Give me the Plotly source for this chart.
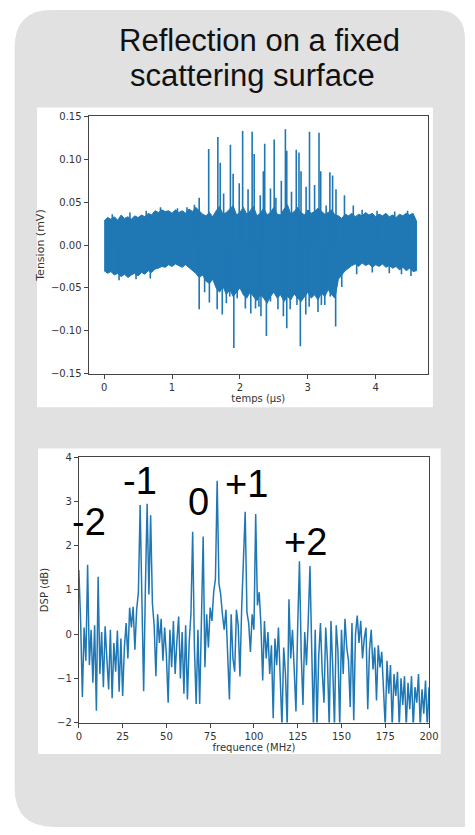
import plotly.graph_objects as go

W, H = 475, 835

# ---------------- Top panel data: time signal ----------------
t_env_us = [0.00, 0.05, 0.10, 0.15, 0.20, 0.25, 0.30, 0.35, 0.40, 0.45,
            0.50, 0.55, 0.60, 0.65, 0.70, 0.75, 0.80, 0.85, 0.90, 0.95,
            1.00, 1.05, 1.10, 1.15, 1.20, 1.25, 1.30, 1.35, 1.40, 1.45,
            1.50, 1.55, 1.60, 1.65, 1.70, 1.75, 1.80, 1.85, 1.90, 1.95,
            2.00, 2.05, 2.10, 2.15, 2.20, 2.25, 2.30, 2.35, 2.40, 2.45,
            2.50, 2.55, 2.60, 2.65, 2.70, 2.75, 2.80, 2.85, 2.90, 2.95,
            3.00, 3.05, 3.10, 3.15, 3.20, 3.25, 3.30, 3.35, 3.40, 3.45,
            3.50, 3.55, 3.60, 3.65, 3.70, 3.75, 3.80, 3.85, 3.90, 3.95,
            4.00, 4.05, 4.10, 4.15, 4.20, 4.25, 4.30, 4.35, 4.40, 4.45,
            4.50, 4.55, 4.60]
env_upper_mv = [0.028, 0.032, 0.030, 0.033, 0.029, 0.035, 0.031, 0.033, 0.030, 0.034,
                0.032, 0.035, 0.033, 0.037, 0.035, 0.040, 0.038, 0.041, 0.039, 0.040,
                0.037, 0.041, 0.038, 0.040, 0.037, 0.042, 0.039, 0.044, 0.040, 0.036,
                0.034, 0.038, 0.033, 0.040, 0.045, 0.036, 0.038, 0.042, 0.046, 0.035,
                0.038, 0.044, 0.036, 0.040, 0.045, 0.034, 0.037, 0.043, 0.035, 0.038,
                0.044, 0.036, 0.035, 0.042, 0.047, 0.036, 0.039, 0.044, 0.038, 0.035,
                0.041, 0.037, 0.039, 0.043, 0.040, 0.036, 0.038, 0.041, 0.035, 0.034,
                0.031, 0.036, 0.034, 0.037, 0.033, 0.036, 0.034, 0.038, 0.035, 0.037,
                0.033, 0.036, 0.034, 0.037, 0.033, 0.035, 0.032, 0.036, 0.034, 0.037,
                0.035, 0.037, 0.028]
env_lower_mv = [-0.030, -0.033, -0.031, -0.035, -0.033, -0.037, -0.034, -0.038, -0.035, -0.033,
                -0.036, -0.032, -0.034, -0.030, -0.032, -0.028, -0.027, -0.025, -0.026, -0.023,
                -0.025, -0.022, -0.024, -0.026, -0.023, -0.027, -0.030, -0.033, -0.038, -0.035,
                -0.042, -0.045, -0.040, -0.050, -0.055, -0.048, -0.058, -0.052, -0.060, -0.055,
                -0.050, -0.058, -0.062, -0.055, -0.060, -0.065, -0.058, -0.062, -0.068, -0.060,
                -0.055, -0.062, -0.058, -0.066, -0.060, -0.064, -0.057, -0.062, -0.066, -0.060,
                -0.055, -0.062, -0.058, -0.064, -0.056, -0.060, -0.052, -0.058, -0.062, -0.040,
                -0.035, -0.030, -0.027, -0.024, -0.022, -0.025, -0.021, -0.024, -0.022, -0.026,
                -0.023, -0.025, -0.022, -0.026, -0.024, -0.027, -0.025, -0.029, -0.026, -0.030,
                -0.027, -0.031, -0.030]

# isolated excursions (large echoes and small noise bursts at the band edge)
spike_t_us = [1.33, 1.40, 1.54, 1.675, 1.71, 1.76, 1.86, 1.90, 1.99, 2.04,
              2.12, 2.18, 2.21, 2.30, 2.345, 2.365, 2.45, 2.505, 2.53, 2.61,
              2.67, 2.69, 2.76, 2.83, 2.87, 2.90, 2.975, 3.025, 3.10, 3.165,
              3.19, 3.27, 3.325, 3.365, 3.415, 3.54, 3.67,
              1.40, 1.48, 1.55, 1.665, 1.74, 1.80, 1.85, 1.91, 1.96, 2.08,
              2.16, 2.23, 2.28, 2.31, 2.39, 2.45, 2.56, 2.64, 2.69, 2.74,
              2.84, 2.89, 2.97, 3.02, 3.15, 3.20, 3.25, 3.33, 3.41, 3.50,
              0.12, 0.38, 0.62, 0.83, 1.08, 1.22, 3.80, 4.02, 4.28, 4.47,
              0.22, 0.47, 0.68, 3.72, 3.95, 4.20, 4.38, 4.52]
spike_v_mv = [0.047, 0.055, 0.112, 0.126, 0.096, 0.060, 0.117, 0.083, 0.072, 0.133,
              0.065, 0.132, 0.106, 0.058, 0.086, 0.118, 0.066, 0.123, 0.055, 0.075,
              0.135, 0.110, 0.062, 0.111, 0.108, 0.086, 0.068, 0.132, 0.070, 0.131,
              0.086, 0.046, 0.085, 0.081, 0.065, 0.058, 0.046,
              -0.075, -0.055, -0.067, -0.075, -0.081, -0.068, -0.060, -0.120, -0.062, -0.074,
              -0.080, -0.074, -0.072, -0.083, -0.106, -0.066, -0.075, -0.083, -0.097, -0.075,
              -0.070, -0.118, -0.081, -0.072, -0.078, -0.070, -0.070, -0.060, -0.095, -0.049,
              0.036, 0.038, 0.040, 0.044, 0.043, 0.044, 0.041, 0.040, 0.039, 0.040,
              -0.041, -0.040, -0.039, -0.034, -0.032, -0.033, -0.034, -0.036]

top_xticks = [0, 1, 2, 3, 4]
top_yticks = [-0.15, -0.10, -0.05, 0.00, 0.05, 0.10, 0.15]
top_yticktext = ["\u22120.15", "\u22120.10", "\u22120.05", "0.00", "0.05", "0.10", "0.15"]

# ---------------- Bottom panel data: spectrum ----------------
freq_mhz = list(range(0, 201))
dsp_db = [
    1.45, 0.30, -1.42, 0.15, -0.60, 1.57, -0.70, 0.10, -1.10, 0.20,
    -1.73, 1.30, -0.90, 0.05, -1.20, 0.18, -0.55, -1.25, 0.10, -1.45,
    -0.20, -0.85, 0.08, -1.30, -0.10, -1.40, -0.30, 0.25, -0.55, 0.60,
    0.15, 0.62, -0.35, 0.55, 0.95, 2.92, 0.80, -1.29, 1.05, 2.95,
    0.90, 2.69, 0.70, 0.20, -0.95, 0.45, -0.20, 0.35, -0.60, 0.15,
    -0.50, -1.55, 0.10, -0.75, 0.30, -0.90, -0.15, 0.40, -1.00, 0.05,
    -1.35, 0.20, -1.48, -0.20, 0.45, 2.32, -0.30, -1.58, 0.10, -1.58,
    0.30, 2.21, -0.75, 0.45, -0.30, 0.60, 0.30, 0.95, 1.25, 3.47,
    1.15, 0.90, 0.45, 0.10, 0.55, -0.40, -1.48, 0.45, -0.55, -0.85,
    0.55, 0.20, -0.96, 0.60, 1.50, 2.77, 0.50, 0.25, -0.40, 0.45,
    0.10, 2.72, 0.65, 0.95, 0.20, -1.05, 0.30, -0.55, 0.05, -0.90,
    -0.25, -1.90, -0.10, -0.70, 0.15, -1.00, -2.10, -0.30, -0.90, -2.10,
    0.79, -0.55, 0.10, -0.80, -1.75, 0.20, 1.65, -0.45, -1.60, 0.05,
    -0.70, 0.30, 1.54, -0.35, -2.10, 0.10, -2.10, -0.50, 0.25, -0.85,
    -1.55, 0.15, -0.60, -2.10, 0.30, -0.75, -2.10, 0.20, -0.40, -2.10,
    0.10, -0.90, 0.35, -0.30, -0.60, -1.65, 0.25, -1.95, 0.00, 0.42,
    -0.20, 0.30, -0.55, -0.10, 0.15, -1.70, -0.35, 0.10, -0.80, -0.30,
    -1.50, -0.25, -0.75, -0.40, -1.10, -2.10, -0.60, -1.35, -0.70, -2.10,
    -0.90, -1.40, -0.85, -2.10, -1.00, -1.60, -0.95, -2.10, -1.10, -1.70,
    -0.95, -2.10, -1.20, -1.55, -0.90, -2.10, -1.25, -1.80, -1.05, -2.10, -1.20,
]
bot_xticks = [0, 25, 50, 75, 100, 125, 150, 175, 200]
bot_yticks = [-2, -1, 0, 1, 2, 3, 4]
bot_yticktext = ["\u22122", "\u22121", "0", "1", "2", "3", "4"]

order_labels = ["-2", "-1", "0", "+1", "+2"]
order_label_px = [(88, 524), (141, 482), (201, 503), (250, 485), (311, 544)]

title_lines = ["Reflection on a fixed", "scattering surface"]

BLUE = "#1f77b4"


def px(x):
    return x / W


def py(y):
    return 1 - y / H


fig = go.Figure()

# band of the noisy signal
fig.add_trace(go.Scatter(
    x=t_env_us + t_env_us[::-1],
    y=env_upper_mv + env_lower_mv[::-1],
    mode="lines", fill="toself", fillcolor=BLUE,
    line=dict(color=BLUE, width=1), xaxis="x", yaxis="y",
    hoverinfo="skip", showlegend=False))

sx, sy = [], []
for t, v in zip(spike_t_us, spike_v_mv):
    sx += [t, t, None]
    sy += [0, v, None]
fig.add_trace(go.Scatter(x=sx, y=sy, mode="lines",
                         line=dict(color=BLUE, width=1.6),
                         xaxis="x", yaxis="y", showlegend=False))

fig.add_trace(go.Scatter(x=freq_mhz, y=dsp_db, mode="lines",
                         line=dict(color=BLUE, width=1.5),
                         xaxis="x2", yaxis="y2", showlegend=False))

AX_FONT = dict(family="DejaVu Sans", size=10, color="#333333")
common = dict(showline=True, mirror=True, linecolor="#444444", linewidth=1,
              ticks="outside", ticklen=4, tickwidth=1, tickcolor="#444444",
              showgrid=False, zeroline=False, tickfont=AX_FONT)

shapes = []
# grey rounded panel
L, T, R, B = 12, 4, 475, 833
r1, r2, r3 = 38, 30, 40
path = (f"M {px(L)},{py(T + r1)} Q {px(L)},{py(T)} {px(L + r1)},{py(T)} "
        f"L {px(R - r2)},{py(T)} Q {px(R)},{py(T)} {px(R)},{py(T + r2)} "
        f"L {px(R)},{py(B)} L {px(L + r3)},{py(B)} Q {px(L)},{py(B)} {px(L)},{py(B - r3)} Z")
shapes.append(dict(type="path", path=path, xref="paper", yref="paper",
                   fillcolor="#e1e1e1", line=dict(width=0), layer="below"))
# white picture boxes
for (x0, y0, x1, y1) in [(35, 103, 442, 407), (36, 449, 450, 759)]:
    shapes.append(dict(type="rect", xref="paper", yref="paper",
                       x0=px(x0), x1=px(x1), y0=py(y1), y1=py(y0),
                       fillcolor="white", line=dict(width=0), layer="below"))

annotations = []
annotations.append(dict(text=title_lines[0], x=px(264), y=py(35), xref="paper", yref="paper",
                        showarrow=False, xanchor="center", yanchor="middle",
                        font=dict(family="Liberation Sans", size=31, color="#111111")))
annotations.append(dict(text=title_lines[1], x=px(257), y=py(71), xref="paper", yref="paper",
                        showarrow=False, xanchor="center", yanchor="middle",
                        font=dict(family="Liberation Sans", size=31, color="#111111")))
for lab, (ax_, ay_) in zip(order_labels, order_label_px):
    annotations.append(dict(text=lab, x=px(ax_), y=py(ay_), xref="paper", yref="paper",
                            showarrow=False, xanchor="center", yanchor="middle",
                            font=dict(family="Liberation Sans", size=38, color="#000000")))

fig.update_layout(
    width=W, height=H, margin=dict(l=0, r=0, t=0, b=0),
    paper_bgcolor="white", plot_bgcolor="white", showlegend=False,
    xaxis=dict(domain=[px(88), px(437)], range=[-0.229, 4.771], anchor="y",
               tickvals=top_xticks, title=dict(text="temps (\u00b5s)", font=AX_FONT, standoff=2),
               **common),
    yaxis=dict(domain=[py(373), py(112)], range=[-0.15, 0.15], anchor="x",
               tickvals=top_yticks, ticktext=top_yticktext,
               title=dict(text="Tension (mV)", font=dict(family="DejaVu Sans", size=11, color="#333333"), standoff=4),
               **common),
    xaxis2=dict(domain=[px(78), px(438)], range=[0, 200], anchor="y2",
                tickvals=bot_xticks, title=dict(text="frequence (MHz)", font=AX_FONT, standoff=2),
                **common),
    yaxis2=dict(domain=[py(727), py(458)], range=[-2, 4], anchor="x2",
                tickvals=bot_yticks, ticktext=bot_yticktext,
                title=dict(text="DSP (dB)", font=AX_FONT, standoff=6),
                **common),
    shapes=shapes, annotations=annotations,
)

fig.write_html("out.html")
